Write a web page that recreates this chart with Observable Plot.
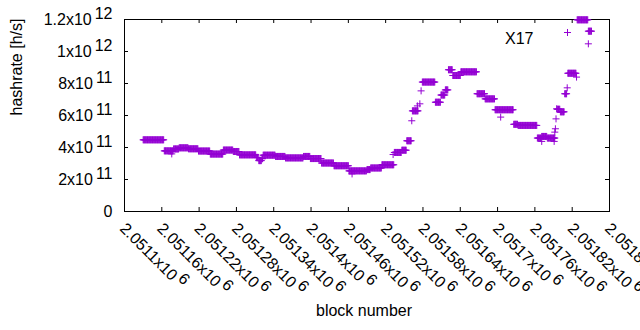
<!DOCTYPE html>
<html>
<head>
<meta charset="utf-8">
<script src="https://cdn.jsdelivr.net/npm/d3@7"></script>
<script src="https://cdn.jsdelivr.net/npm/@observablehq/plot@0.6"></script>
<style>
  html, body { margin: 0; padding: 0; background: white; }
  #chart svg { display: block; }
</style>
</head>
<body>
<div id="chart"></div>
<script>
// ---- data ----
const baseBlock = 2051100;
// plateaus: first block offset, last block offset, hashrate
const runStart = [30, 64, 79, 88, 103, 119, 138, 159, 175, 185, 212, 216, 221, 223, 243, 259, 288, 299, 317, 337, 361, 390, 396, 414, 434, 446, 454, 463, 479, 500, 509, 516, 521, 528, 541, 567, 580, 596, 626, 633, 664, 671, 680, 696, 701, 708, 713, 728, 746];
const runEnd   = [63, 78, 87, 102, 118, 137, 158, 174, 184, 211, 215, 220, 222, 242, 258, 287, 298, 316, 336, 360, 389, 395, 413, 433, 445, 453, 461, 472, 499, 508, 515, 520, 527, 540, 566, 579, 595, 625, 632, 663, 670, 679, 692, 700, 707, 711, 726, 745, 751];
const runValue = [4.48e11, 3.79e11, 3.91e11, 3.98e11, 3.92e11, 3.78e11, 3.59e11, 3.84e11, 3.75e11, 3.54e11, 3.38e11, 3.18e11, 3.30e11, 3.52e11, 3.44e11, 3.35e11, 3.44e11, 3.31e11, 3.03e11, 2.86e11, 2.54e11, 2.62e11, 2.72e11, 2.92e11, 3.69e11, 3.83e11, 4.42e11, 6.29e11, 8.09e11, 6.83e11, 7.28e11, 7.60e11, 8.86e11, 8.50e11, 8.73e11, 7.36e11, 7.04e11, 6.36e11, 5.45e11, 5.38e11, 4.59e11, 4.69e11, 4.59e11, 6.39e11, 6.23e11, 7.36e11, 8.64e11, 1.198e12, 1.127e12];
// isolated points: block offset, hashrate
const ptBlock = [76, 366, 432, 462, 471, 475, 477, 605, 671, 691, 692, 693, 694, 695, 712, 727, 746];
const ptValue = [3.60e11, 2.35e11, 3.56e11, 5.67e11, 6.60e11, 6.73e11, 7.54e11, 5.90e11, 4.38e11, 4.38e11, 4.96e11, 5.17e11, 5.79e11, 6.42e11, 7.73e11, 8.40e11, 1.048e12];

const xTicks = [2051100, 2051160, 2051220, 2051280, 2051340, 2051400, 2051460, 2051520, 2051580, 2051640, 2051700, 2051760, 2051820, 2051880];
const yTicks = [0, 2e11, 4e11, 6e11, 8e11, 1e12, 1.2e12];
const seriesName = "X17";
const color = "#9400d3";

// table for the library
const points = [];
runStart.forEach((s, i) => {
  for (let b = s; b <= runEnd[i]; b++) points.push({block: baseBlock + b, hashrate: runValue[i]});
});
ptBlock.forEach((b, i) => points.push({block: baseBlock + b, hashrate: ptValue[i]}));

function sci(v) {
  if (v === 0) return "0";
  const e = Math.floor(Math.log10(v) + 1e-9);
  const m = +(v / Math.pow(10, e)).toPrecision(6);
  return `${m}x10^${e}`;
}

const plot = Plot.plot({
  width: 640,
  height: 330,
  marginLeft: 124,
  marginRight: 31,
  marginTop: 19,
  marginBottom: 119,
  style: {fontFamily: "'Liberation Sans', Arial, sans-serif", fontSize: "16px", background: "white", color: "black"},
  x: {domain: [2051100, 2051880]},
  y: {domain: [0, 1.2e12]},
  marks: [
    Plot.frame({stroke: "black"}),
    Plot.ruleX(xTicks, {insetTop: 188, stroke: "black"}),
    Plot.ruleX(xTicks, {insetBottom: 188, stroke: "black"}),
    Plot.ruleY(yTicks, {insetRight: 481, stroke: "black"}),
    Plot.ruleY(yTicks, {insetLeft: 481, stroke: "black"}),
    Plot.axisX(xTicks, {tickSize: 0, tickPadding: 0, tickRotate: 45, textAnchor: "start", lineAnchor: "top", dx: 2.5, dy: 10, tickFormat: sci, fill: "black", fontSize: 16, label: null}),
    Plot.axisY(yTicks, {tickSize: 0, tickPadding: 12, tickFormat: sci, fill: "black", fontSize: 16, label: null}),
    Plot.text(["hashrate [h/s]"], {frameAnchor: "left", rotate: -90, dx: -108, fill: "black", fontSize: 16}),
    Plot.text(["block number"], {frameAnchor: "bottom", dx: -3, dy: 104.5, fill: "black", fontSize: 16}),
    Plot.text([seriesName], {frameAnchor: "top-right", dx: -76, dy: 13, textAnchor: "end", fill: "black", fontSize: 16}),
    Plot.dot([seriesName], {frameAnchor: "top-right", dx: -42, dy: 13, symbol: "plus", r: 2.4, stroke: color, strokeWidth: 1}),
    Plot.dot(points, {x: "block", y: "hashrate", symbol: "plus", r: 2.4, stroke: color, strokeWidth: 1})
  ]
});

// turn "mantissa x10^exp" tick labels into a raised exponent
plot.querySelectorAll("text").forEach(t => {
  const s = t.textContent;
  if (s.includes("^")) {
    const [base, exp] = s.split("^");
    t.textContent = base;
    const ts = document.createElementNS("http://www.w3.org/2000/svg", "tspan");
    ts.setAttribute("dx", "3");
    ts.setAttribute("dy", "-6");
    ts.textContent = exp;
    t.appendChild(ts);
  }
});

document.getElementById("chart").appendChild(plot);
</script>
</body>
</html>
